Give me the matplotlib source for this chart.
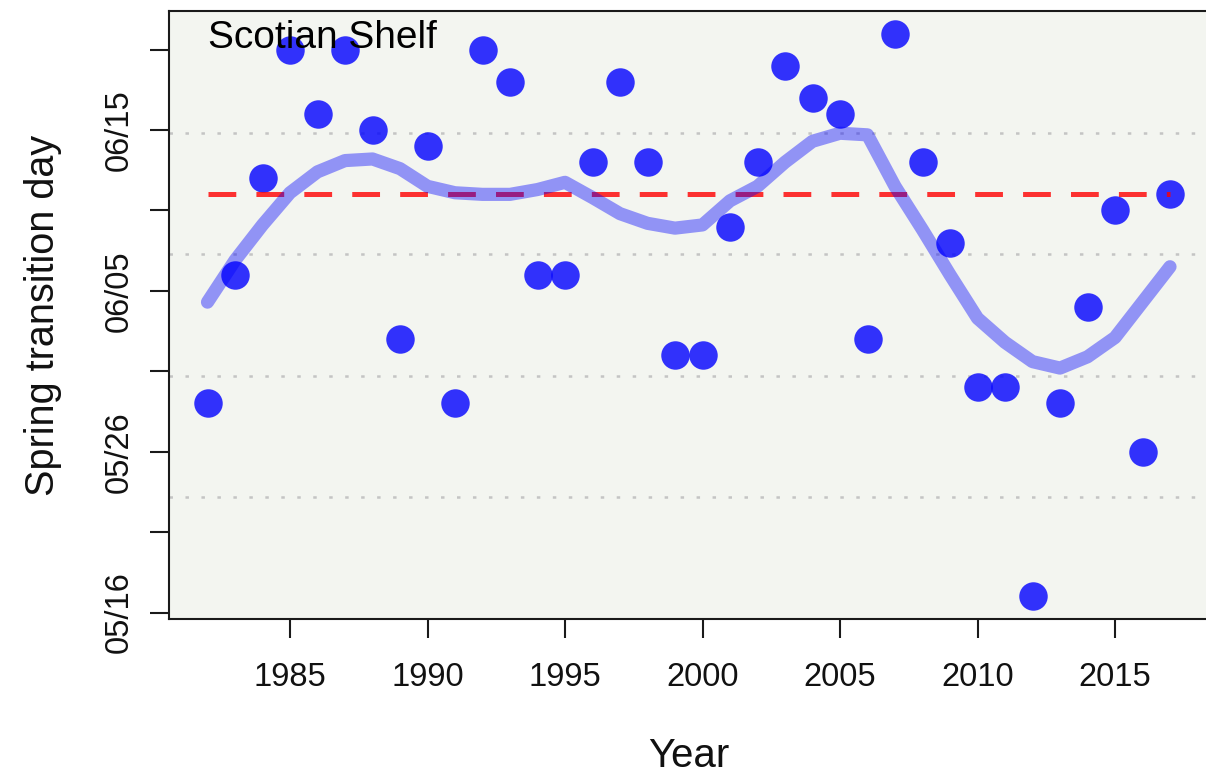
import matplotlib
matplotlib.use("Agg")
import matplotlib.pyplot as plt
import numpy as np

plt.rcParams['font.family'] = ['Liberation Sans', 'DejaVu Sans']
plt.rcParams['lines.scale_dashes'] = False

# ---- data ----
years = list(range(1982, 2018))
# spring transition day as day-of-year (05/16 = 136)
transition_doy = [149, 157, 163, 171, 167, 171, 166, 153, 165, 149,
                  171, 169, 157, 157, 164, 169, 164, 152, 152, 160,
                  164, 170, 168, 167, 153, 172, 164, 159, 150, 150,
                  137, 149, 155, 161, 146, 162]
# smoothed trend
smooth_doy = [155.3, 157.9, 160.1, 162.1, 163.4, 164.1, 164.2, 163.6, 162.5, 162.1,
              162.0, 162.0, 162.3, 162.75, 161.8, 160.8, 160.2, 159.9, 160.1, 161.6,
              162.5, 164.0, 165.3, 165.8, 165.7, 162.5, 159.8, 157.0, 154.3, 152.8,
              151.6, 151.2, 151.9, 153.1, 155.3, 157.5]
reference_doy = 162
ytick_doy = [136, 141, 146, 151, 156, 161, 166, 171]
ytick_labels = ["05/16", "", "05/26", "", "06/05", "", "06/15", ""]
xtick_years = [1985, 1990, 1995, 2000, 2005, 2010, 2015]
panel_title = "Scotian Shelf"

# ---- figure ----
fig = plt.figure(figsize=(12.06, 7.76), dpi=100)
ax = fig.add_axes([169 / 1206, 157 / 776, 1039.5 / 1206, 608 / 776])
bg = '#f3f5f0'
ax.set_facecolor(bg)

xr = max(years) - min(years)
ax.set_xlim(min(years) - 0.04 * xr, max(years) + 0.04 * xr)
yr = max(transition_doy) - min(transition_doy)
y0, y1 = min(transition_doy) - 0.04 * yr, max(transition_doy) + 0.04 * yr
ax.set_ylim(y0, y1)

# grid (R style grid with 5 horizontal cells)
for gy in np.linspace(y0, y1, 6)[1:-1]:
    ax.axhline(gy, color='#c4c4c4', lw=1.8, dashes=(2.5, 9), zorder=1)

ax.plot(years, transition_doy, 'o', color=(0, 0, 1, 0.8), markersize=20.5,
        markeredgewidth=0, zorder=3)
ax.plot([years[0], years[-1]], [reference_doy, reference_doy], color=(1, 0, 0, 0.8),
        lw=3.6, dashes=(20, 14.5), zorder=4)
ax.plot(years, smooth_doy, color=(0, 0, 1, 0.4), lw=9.5, solid_capstyle='round',
        solid_joinstyle='round', zorder=5)

ax.set_xticks(xtick_years)
ax.set_xticklabels([str(y) for y in xtick_years])
ax.set_yticks(ytick_doy)
ax.set_yticklabels(ytick_labels, rotation=90, va='center')

for s in ax.spines.values():
    s.set_linewidth(1.5)
    s.set_color('#1a1a1a')

ax.tick_params(axis='both', direction='out', length=13.7, width=1.5, color='#1a1a1a',
               labelsize=23.5, labelcolor='#111111')
ax.tick_params(axis='x', pad=17)
ax.tick_params(axis='y', pad=11)

ax.set_xlabel("Year", fontsize=29, color='#111111', labelpad=32)
ax.set_ylabel("Spring transition day", fontsize=28.5, color='#111111', labelpad=30)

ax.text(0.0375, 0.939, panel_title, transform=ax.transAxes, fontsize=28,
        ha='left', va='baseline', color='#000000', zorder=6)

fig.savefig("out.png", dpi=100, facecolor='white')
